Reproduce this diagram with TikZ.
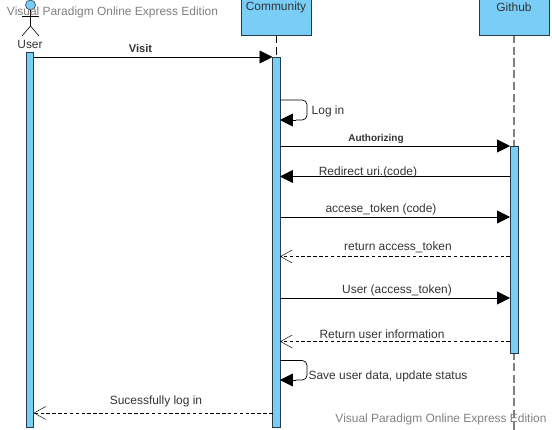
\documentclass[tikz,border=0pt]{standalone}
\usepackage{fontspec}
\setmainfont{Liberation Sans}
\usetikzlibrary{arrows.meta}
\definecolor{barblue}{RGB}{122,205,245}
\definecolor{boxedge}{RGB}{38,60,75}
\tikzset{
  headbox/.style={draw=boxedge,fill=barblue,line width=0.7pt},
  activebar/.style={draw=boxedge,fill=barblue,line width=0.7pt},
  msgline/.style={line width=0.6pt,-{Triangle[length=11pt,width=11pt]}},
  loopline/.style={line width=0.6pt,rounded corners=4pt},
  backline/.style={line width=0.5pt,dash pattern=on 3pt off 2pt,-{Straight Barb[length=10pt,width=11pt,line width=0.4pt]}},
  msgtext/.style={font=\fontsize{10.2pt}{12pt}\selectfont,text=black!80,inner sep=0pt},
  marktext/.style={font=\fontsize{10.2pt}{12pt}\selectfont,text=black!50,inner sep=0pt},
}

\begin{document}
\begin{tikzpicture}[x=0.03cm,y=-0.03cm]
\useasboundingbox (0,0) rectangle (552,430);

% Lifelines
\coordinate (C0) at (276.5,35);
\coordinate (C1) at (276.5,57);
\coordinate (G0) at (514,35);
\coordinate (G1) at (514,430);
\draw[black,line width=0.6pt,dash pattern=on 7pt off 3pt] (C0) -- (C1);
\draw[gray,line width=1.1pt,dash pattern=on 7pt off 3pt] (G0) -- (G1);

% Head boxes
\path[headbox] (241,-1) rectangle (311,35);
\path[headbox] (479,-1) rectangle (549,35);
\node[msgtext] (community) at (276,7.5) {Community};
\node[msgtext] (github) at (514,7.5) {Github};

% Activation bars
\path[activebar] (26,52) rectangle (33.5,427);
\path[activebar] (272.5,57) rectangle (280,427);
\path[activebar] (510,146) rectangle (518,353);

% Actor
\draw[boxedge,fill=barblue,line width=0.5pt] (30.5,5) circle (5);
\draw[black,line width=0.5pt] (30.5,10) -- (30.5,26);
\draw[black,line width=0.5pt] (22,16) -- (39,16);
\draw[black,line width=0.5pt] (22,36) -- (30.5,26) -- (39,36);
\node[msgtext] (user) at (30,44) {User};

% Message ends
\coordinate (U1) at (33.5,57);
\coordinate (C2) at (272.5,57);
\coordinate (C3) at (280,146);
\coordinate (G2) at (510,146);
\coordinate (C4) at (280,176.5);
\coordinate (G3) at (510,176.5);
\coordinate (C5) at (280,217);
\coordinate (G4) at (510,217);
\coordinate (C6) at (280,256.5);
\coordinate (G5) at (510,256.5);
\coordinate (C7) at (280,298);
\coordinate (G6) at (510,298);
\coordinate (C8) at (280,341.5);
\coordinate (G7) at (510,341.5);
\coordinate (C9) at (272.5,413);
\coordinate (U2) at (33.5,413);

% Messages
\draw[msgline] (U1) -- (C2);
\draw[msgline] (C3) -- (G2);
\draw[msgline] (G3) -- (C4);
\draw[msgline] (C5) -- (G4);
\draw[backline] (G5) -- (C6);
\draw[msgline] (C7) -- (G6);
\draw[backline] (G7) -- (C8);
\draw[backline] (C9) -- (U2);

% Self messages
\coordinate (L1) at (280,100);
\coordinate (L2) at (280,120);
\coordinate (S1) at (280,360.5);
\coordinate (S2) at (280,380);
\draw[loopline] (L1) -- (307,100) -- (307,120) -- (296,120);
\draw[msgline] (296,120) -- (L2);
\draw[loopline] (S1) -- (307,360.5) -- (307,380) -- (296,380);
\draw[msgline] (296,380) -- (S2);

% Labels
\node[msgtext,font=\fontsize{9.5pt}{12pt}\bfseries] (visit) at (140.5,48.5) {Visit};
\node[msgtext] (login) at (328,111.5) {Log in};
\node[msgtext,font=\fontsize{8.5pt}{12pt}\bfseries] (auth) at (376,138.5) {Authorizing};
\node[msgtext] (redirect) at (368,172) {Redirect uri.(code)};
\node[msgtext] (accese) at (381,209.5) {accese\_token (code)};
\node[msgtext] (ret) at (398,247.5) {return access\_token};
\node[msgtext] (usertok) at (397,290.5) {User (access\_token)};
\node[msgtext] (retinfo) at (382,334.5) {Return user information};
\node[msgtext] (save) at (388,376) {Save user data, update status};
\node[msgtext] (okay) at (156,401.5) {Sucessfully log in};

% Watermarks
\node[marktext] (mark1) at (112.5,12.5) {Visual Paradigm Online Express Edition};
\node[marktext] (mark2) at (441,419.5) {Visual Paradigm Online Express Edition};

\end{tikzpicture}
\end{document}
